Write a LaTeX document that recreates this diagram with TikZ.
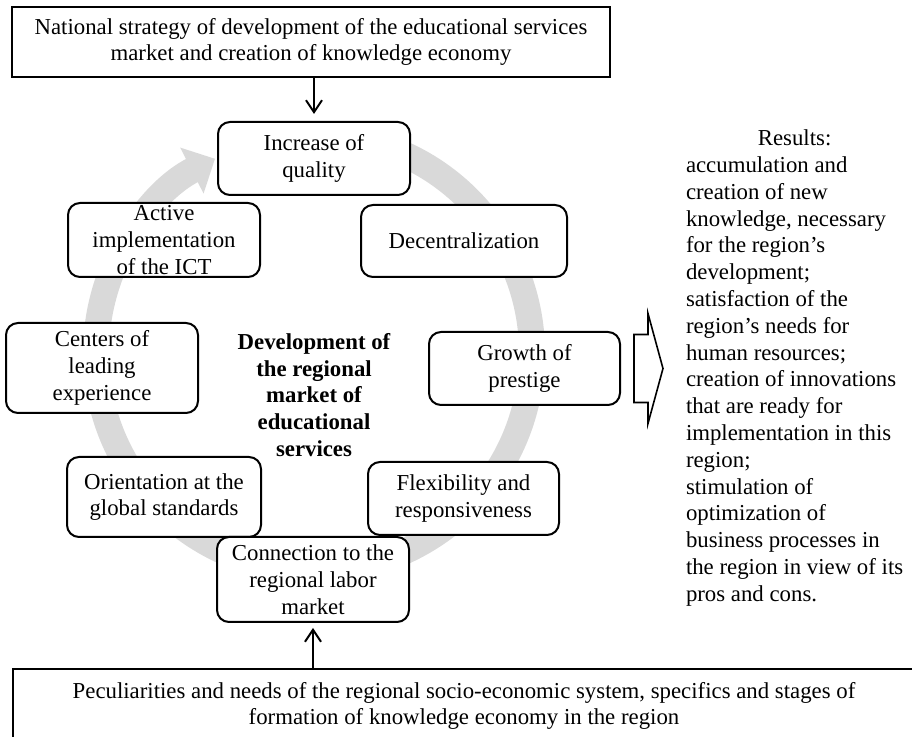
\documentclass[tikz,border=0pt]{standalone}
\usepackage{fontspec}
\setmainfont{Liberation Serif}
\usetikzlibrary{arrows.meta}

\begin{document}
\begin{tikzpicture}[x=0.5pt,y=0.5pt,>={Straight Barb[length=6pt,width=8pt]},line width=1pt,
    main node/.style={draw,fill=white,rounded corners=6pt,inner sep=0pt,align=center,font=\fontsize{11.4}{13.4}\selectfont},
    frame node/.style={draw,line width=1.2pt,fill=white,inner sep=0pt,align=center,font=\fontsize{11.4}{13.4}\selectfont},
    ring/.style={line width=13pt,draw=black!15,-{Triangle[length=13pt,width=25pt]}}]

    \path[use as bounding box,clip] (0,0) rectangle (912,-737);

    % the grey cycle goes first, the boxes cover it
    \coordinate (c) at (314,-353);
    \draw[ring] ([shift={(80:109pt)}]c) arc[start angle=80,end angle=-243,radius=109pt];

    \node[frame node,minimum width=299pt,minimum height=35pt] (1) at (311,-42)
        {National strategy of development of the educational services\\market and creation of knowledge economy};
    \node[main node,minimum width=96pt,minimum height=36.5pt] (2) at (314,-158.5) {Increase of\\quality};
    \node[main node,minimum width=103pt,minimum height=36pt] (3) at (464,-241) {Decentralization};
    \node[main node,minimum width=95.5pt,minimum height=36.5pt] (4) at (524.5,-368.5) {Growth of\\prestige};
    \node[main node,minimum width=95.5pt,minimum height=36.5pt] (5) at (463.5,-498.5) {Flexibility and\\responsiveness};
    \node[main node,minimum width=97pt,minimum height=40pt] (7) at (164,-497) {Orientation at the\\global standards};
    \node[main node,minimum width=96pt,minimum height=42.5pt] (6) at (313,-579.5) {Connection to the\\regional labor\\market};
    \node[main node,minimum width=96pt,minimum height=45pt] (8) at (102,-368) {Centers of\\leading\\experience};
    \node[main node,minimum width=96pt,minimum height=37pt] (9) at (164,-240) {Active\\implementation\\of the ICT};

    \node[align=center,inner sep=0pt,font=\fontsize{11.4}{13.4}\selectfont\bfseries] (10) at (314,-395)
        {Development of\\the regional\\market of\\educational\\services};

    \node[anchor=north west,inner sep=0pt,font=\fontsize{11.4}{13.4}\selectfont] (11) at (685,-126)
        {\begin{tabular}{@{}l@{}}
            \multicolumn{1}{@{}c@{}}{Results:}\\
            accumulation and\\
            creation of new\\
            knowledge, necessary\\
            for the region's\\
            development;\\
            satisfaction of the\\
            region's needs for\\
            human resources;\\
            creation of innovations\\
            that are ready for\\
            implementation in this\\
            region;\\
            stimulation of\\
            optimization of\\
            business processes in\\
            the region in view of its\\
            pros and cons.
        \end{tabular}};

    \node[frame node,minimum width=451pt,minimum height=37pt] (12) at (464,-706)
        {Peculiarities and needs of the regional socio-economic system, specifics and stages of\\formation of knowledge economy in the region};

    \draw[->,shorten >=3.5pt] (2.north |- 1.south) -- (2.north);
    \draw[->,shorten >=2.5pt] (6.south |- 12.north) -- (6.south);

    % hollow arrow towards the results
    \coordinate (fat) at ([xshift=6.5pt]4.east);
    \draw[line width=0.8pt] (fat) ++(0,34) -- ++(14,0) -- ++(0,21) -- ++(15,-55) -- ++(-15,-55)
        -- ++(0,21) -- ++(-14,0) -- cycle;

\end{tikzpicture}
\end{document}
